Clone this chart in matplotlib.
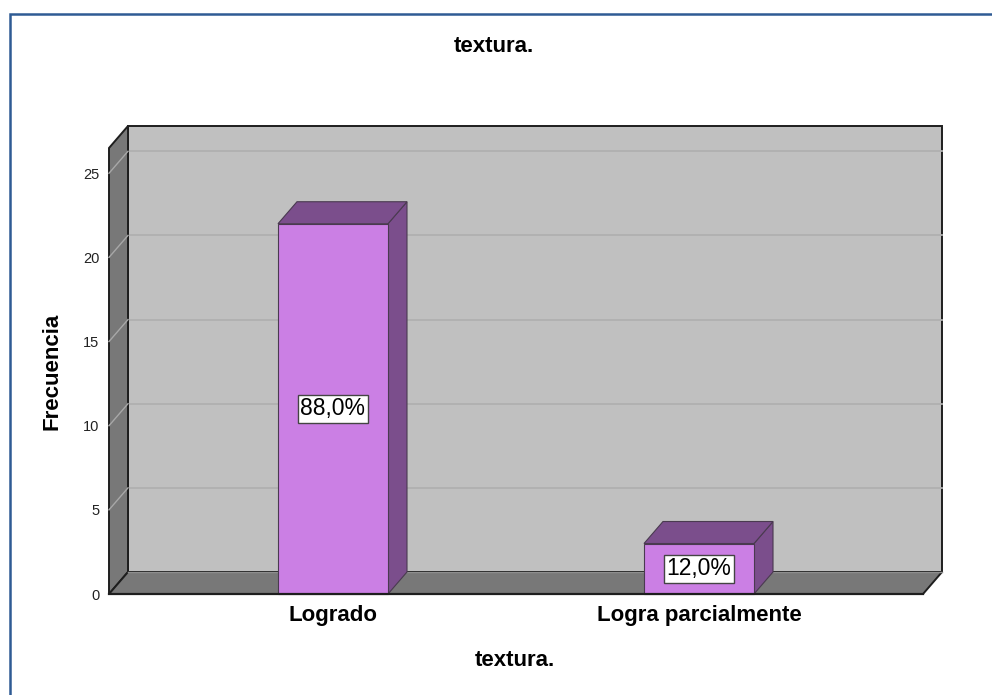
import matplotlib
matplotlib.use("Agg")
import matplotlib.pyplot as plt
from matplotlib.patches import Polygon, Rectangle

categories = ["Logrado", "Logra parcialmente"]
frequencies = [22, 3]
percent_labels = ["88,0%", "12,0%"]
y_ticks = [0, 5, 10, 15, 20, 25]
title_text = "textura."
x_label = "textura."
y_label = "Frecuencia"

plt.rcParams['font.family'] = ['Liberation Sans', 'DejaVu Sans']

W, H = 992, 695
fig = plt.figure(figsize=(W / 100, H / 100), dpi=100)

# front plane in pixels
px_left, px_right, px_bottom, px_top = 109, 923, 594, 148
ax = fig.add_axes([px_left / W, 1 - px_bottom / H,
                   (px_right - px_left) / W, (px_bottom - px_top) / H])
ax.patch.set_visible(False)
for s in ax.spines.values():
    s.set_visible(False)

x0, x1 = -0.612, 1.612
ymax = 26.5
ax.set_xlim(x0, x1)
ax.set_ylim(0, ymax)

xscale = (px_right - px_left) / (x1 - x0)
yscale = (px_bottom - px_top) / ymax
DX = 19 / xscale
DY = 22 / yscale

wall_c = "#c0c0c0"
side_c = "#787878"
edge_c = "#1e1e1e"

kw = dict(clip_on=False)
# back wall
ax.add_patch(Rectangle((x0 + DX, DY), x1 - x0, ymax, facecolor=wall_c,
                       edgecolor=edge_c, lw=1.4, zorder=1, **kw))
# back wall gridlines
for t in y_ticks[1:]:
    ax.plot([x0 + DX, x1 + DX], [t + DY, t + DY], color="#b0b0b0", lw=1.3,
            zorder=1.5, **kw)
# left wall
ax.add_patch(Polygon([(x0, 0), (x0, ymax), (x0 + DX, ymax + DY), (x0 + DX, DY)],
                     closed=True, facecolor=side_c, edgecolor=edge_c, lw=1.4,
                     zorder=2, **kw))
for t in y_ticks[1:]:
    ax.plot([x0, x0 + DX], [t, t + DY], color="#a8a8a8", lw=1.0, zorder=2.5, **kw)
# floor
ax.add_patch(Polygon([(x0, 0), (x1, 0), (x1 + DX, DY), (x0 + DX, DY)],
                     closed=True, facecolor=side_c, edgecolor=edge_c, lw=1.4,
                     zorder=2, **kw))
ax.plot([x0 + DX, x1 + DX], [DY, DY], color="#8e8e8e", lw=1.0, zorder=2.6, **kw)

# bars
bar_w = 110 / xscale
front_c = "#cb7fe4"
dark_c = "#7b4e8c"
bar_edge = "#4a3a50"
for i, (v, lab) in enumerate(zip(frequencies, percent_labels)):
    l = i - bar_w / 2
    r = i + bar_w / 2
    ax.add_patch(Polygon([(r, 0), (r + DX, DY), (r + DX, v + DY), (r, v)], closed=True,
                         facecolor=dark_c, edgecolor=bar_edge, lw=0.8, zorder=3, **kw))
    ax.add_patch(Polygon([(l, v), (r, v), (r + DX, v + DY), (l + DX, v + DY)], closed=True,
                         facecolor=dark_c, edgecolor=bar_edge, lw=0.8, zorder=3, **kw))
    ax.add_patch(Rectangle((l, 0), bar_w, v, facecolor=front_c, edgecolor=bar_edge,
                           lw=0.8, zorder=4, **kw))
    ax.text(i, v / 2, lab, ha="center", va="center", fontsize=16.5, color="black",
            fontweight="medium", zorder=5,
            bbox=dict(boxstyle="square,pad=0.1", facecolor="white",
                      edgecolor="#444444", lw=1.0))

# front edges
ax.plot([x0, x1], [0, 0], color=edge_c, lw=1.6, zorder=6, **kw)

ax.set_yticks(y_ticks)
ax.set_yticklabels([str(t) for t in y_ticks], fontsize=10.5, color="#222222")
ax.set_xticks(range(len(categories)))
ax.set_xticklabels(categories, fontsize=16, fontweight="bold")
ax.tick_params(axis="y", length=0, pad=7)
ax.tick_params(axis="x", length=0, pad=8)

fig.text(494 / W, 1 - 47 / H, title_text, ha="center", va="center",
         fontsize=16, fontweight="bold")
fig.text(515 / W, 1 - 661 / H, x_label, ha="center", va="center",
         fontsize=16, fontweight="bold")
fig.text(52 / W, 1 - 371 / H, y_label, ha="center", va="center", rotation=90,
         fontsize=16, fontweight="bold")

# outer frame
fig.patches.append(Rectangle((10 / W, -0.02), 1.05, 1 - 14 / H + 0.02,
                             transform=fig.transFigure, fill=False,
                             edgecolor="#2f5b94", lw=1.8))

fig.savefig("out.png", dpi=100)
